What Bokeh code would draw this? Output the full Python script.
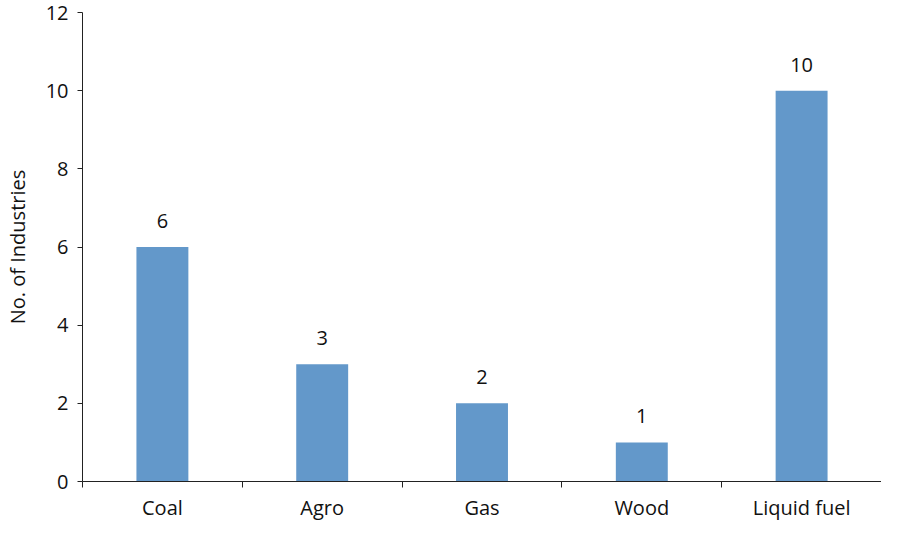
from bokeh.plotting import figure
from bokeh.models import ColumnDataSource, FixedTicker, Range1d, LabelSet
from bokeh.core.properties import value
from bokeh.embed import file_html
from bokeh.resources import INLINE

categories = ["Coal", "Agro", "Gas", "Wood", "Liquid fuel"]
counts = [6, 3, 2, 1, 10]
y_ticks = [0, 2, 4, 6, 8, 10, 12]

xpos = [i + 0.5 for i in range(len(categories))]
source = ColumnDataSource(dict(x=xpos, top=counts, label=[str(c) for c in counts], cat=categories))

FONT = "Open Sans"
p = figure(width=881, height=523, output_backend="svg", toolbar_location=None,
           x_range=Range1d(0, len(categories)), y_range=Range1d(0, 12),
           min_border_left=82, min_border_right=0, min_border_top=12, min_border_bottom=20)
p.outline_line_color = None
p.grid.visible = False

p.vbar(x="x", top="top", width=0.325, source=source, fill_color="#6398CA", line_color=None)

labels = LabelSet(x="x", y="top", text="label", source=source, text_align="center",
                  text_baseline="bottom", y_offset=19, text_font=value(FONT), text_font_size="20px",
                  text_color="#111111")
p.add_layout(labels)

xa = p.xaxis[0]
xa.ticker = FixedTicker(ticks=xpos, minor_ticks=list(range(len(categories) + 1)))
xa.major_label_overrides = {x: c for x, c in zip(xpos, categories)}
xa.major_tick_line_color = None
xa.major_tick_out = 0
xa.major_tick_in = 0
xa.minor_tick_out = 6
xa.minor_tick_in = 0
xa.minor_tick_line_color = "#222222"
xa.major_label_standoff = 6
xa.axis_line_color = "#222222"
xa.major_label_text_font = FONT
xa.major_label_text_font_size = "20px"
xa.major_label_text_color = "#111111"

ya = p.yaxis[0]
ya.ticker = FixedTicker(ticks=y_ticks)
ya.minor_tick_line_color = None
ya.major_tick_out = 5
ya.major_tick_in = 0
ya.major_tick_line_color = "#222222"
ya.axis_line_color = "#222222"
ya.major_label_standoff = 9
ya.major_label_text_font = FONT
ya.major_label_text_font_size = "20px"
ya.major_label_text_color = "#111111"
ya.axis_label = "No. of Industries"
ya.axis_label_text_font = FONT
ya.axis_label_text_font_size = "20px"
ya.axis_label_text_font_style = "normal"
ya.axis_label_text_color = "#111111"
ya.axis_label_standoff = 12

open("out.html", "w").write(file_html(p, INLINE))
